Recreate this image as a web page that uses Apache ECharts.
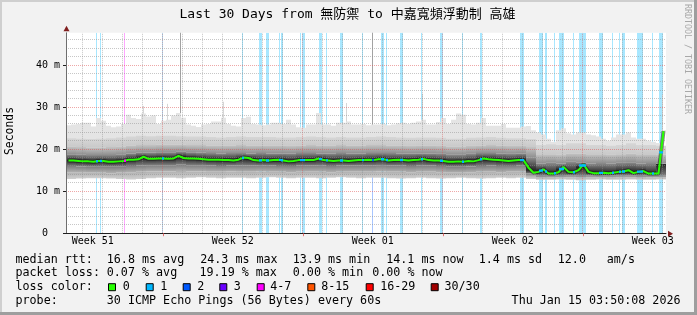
<!DOCTYPE html>
<html><head><meta charset="utf-8">
<script src="https://cdn.jsdelivr.net/npm/echarts@6/dist/echarts.min.js"></script>
<style>html,body{margin:0;padding:0;background:#f2f2f2}#c{width:697px;height:315px}</style>
</head><body><div id="c"></div>
<script>
// ---------- DATA ----------
const titleText = 'Last 30 Days from 無防禦 to 中嘉寬頻浮動制 高雄';
// x axis in days since Sun 14 Dec 2025 00:00 (local)
const startDay = 2.16, endDay = 32.16;
const fineStep = 0.25, coarseStep = 0.5;
const yMax = 47.71;

const median = [
17.3,17.3,17.2,17.1,17.1,17.0,17.2,17.2,17.0,17.0,
17.1,17.2,17.5,17.5,17.6,18.2,17.7,17.7,17.8,17.8,
17.7,17.8,18.4,17.9,17.8,17.8,17.7,17.6,17.5,17.5,
17.5,17.4,17.4,17.3,17.5,18.0,17.9,17.4,17.3,17.4,
17.3,17.4,17.5,17.3,17.1,17.2,17.4,17.4,17.4,17.4,
17.8,17.4,17.3,17.2,17.3,17.3,17.2,17.3,17.4,17.4,
17.5,17.4,17.6,17.6,17.3,17.4,17.5,17.4,17.3,17.4,
17.5,17.7,17.4,17.3,17.3,17.2,17.0,17.0,17.1,17.0,
17.2,17.1,17.4,17.8,17.6,17.5,17.4,17.3,17.2,17.3,
17.4,17.4,15.6,14.4,14.6,15.2,14.2,14.2,14.5,15.8,
14.6,14.5,15.0,16.4,14.6,14.3,14.3,14.4,14.3,14.4,
14.6,14.7,15.0,14.3,14.6,14.8,14.2,14.2,14.2,24.3];
const maxRtt = [
25.7,25.9,26.0,26.3,26.3,25.4,27.4,26.8,25.6,25.2,
25.4,26.0,28.2,27.4,27.2,28.5,27.8,28.0,26.0,26.8,
27.0,28.0,28.6,27.5,25.9,25.6,25.3,25.9,26.0,26.6,
26.6,27.5,26.0,25.6,25.4,27.4,27.7,26.0,25.9,25.7,
25.9,26.3,26.3,26.0,27.0,25.9,25.2,25.1,25.9,25.9,
28.6,25.9,25.9,25.6,26.3,26.3,26.6,25.9,25.9,26.0,
25.7,25.9,25.9,26.0,25.7,25.9,26.2,26.3,26.0,26.3,
26.6,27.0,25.9,25.9,26.5,27.4,26.0,27.0,28.5,28.2,
26.0,25.9,26.3,27.4,25.6,25.6,25.6,26.0,25.1,25.1,
25.1,25.4,25.5,24.5,24.0,23.5,22.5,21.8,24.5,25.0,
23.8,23.5,24.0,24.0,23.5,23.3,23.0,22.5,22.0,22.8,
23.5,23.5,24.0,22.8,22.5,22.5,22.0,21.8,21.5,24.5];
// half-day smoke percentiles
const minRtt = [
12.9,13.0,13.1,13.1,13.0,12.9,12.8,12.9,13.1,13.2,
13.2,13.1,13.2,13.3,13.2,13.1,13.2,13.2,13.1,13.2,
13.3,13.2,13.1,13.2,13.2,13.1,13.2,13.3,13.2,13.1,
13.2,13.2,13.1,13.0,13.1,13.2,13.1,13.0,13.1,13.2,
13.1,13.0,13.1,13.2,13.1,13.2,
12.9,12.7,12.7,12.8,12.7,12.6,12.7,12.8,12.7,12.7,12.8,12.7,12.7,12.8];
const p10 = [
14.5,14.5,14.4,14.4,14.3,14.4,14.5,14.6,14.7,14.7,
14.7,14.8,14.7,14.7,14.6,14.6,14.7,14.6,14.6,14.7,
14.6,14.6,14.5,14.6,14.6,14.6,14.5,14.6,14.6,14.6,
14.6,14.7,14.6,14.6,14.5,14.6,14.6,14.5,14.4,14.4,
14.5,14.6,14.6,14.5,14.6,14.6,
13.6,13.2,13.2,13.3,13.3,13.2,13.3,13.3,13.2,13.3,13.3,13.2,13.3,13.3];
const p25 = [
16.0,15.9,15.8,15.8,15.8,15.8,16.0,16.1,16.2,16.2,
16.2,16.3,16.2,16.2,16.1,16.0,16.1,16.1,16.1,16.1,
16.1,16.0,16.0,16.1,16.1,16.1,16.0,16.1,16.1,16.1,
16.1,16.2,16.1,16.1,16.0,16.1,16.1,16.0,15.8,15.8,
15.9,16.0,16.1,16.0,16.0,16.1,
14.2,13.7,13.8,13.7,13.8,13.7,13.8,13.7,13.8,13.8,13.8,13.7,13.7,13.7];
const p75 = [
18.8,18.7,18.6,18.6,18.6,18.7,19.0,19.2,19.2,19.3,
19.3,19.4,19.3,19.2,19.1,19.0,19.1,19.1,19.0,19.1,
19.0,19.0,19.0,19.1,19.1,19.0,19.0,19.1,19.0,19.0,
19.1,19.1,19.1,19.0,19.0,19.0,19.0,18.9,18.7,18.7,
18.9,19.1,19.1,19.0,18.9,19.0,
18.0,16.6,16.8,16.6,17.0,16.8,16.6,16.7,16.6,16.8,16.9,16.6,16.7,16.6];
const p85 = [
20.6,20.5,20.4,20.4,20.5,20.6,20.9,21.0,21.0,21.1,
21.1,21.1,21.0,21.0,20.9,20.9,20.9,21.0,20.9,20.9,
20.9,20.9,20.8,20.9,21.0,20.9,20.9,21.0,20.9,20.9,
21.0,21.0,20.9,20.9,20.8,20.9,20.9,20.8,20.6,20.6,
20.8,20.9,21.0,20.9,20.8,20.8,
20.5,18.8,18.8,18.7,19.0,19.0,18.8,18.8,18.7,18.8,19.0,18.8,18.8,18.7];
const p90 = [
22.6,22.5,22.4,22.5,22.6,22.8,23.0,23.2,23.1,23.2,
23.2,23.1,23.0,23.0,22.9,22.8,22.9,23.0,22.9,22.9,
22.9,22.8,22.8,22.9,23.0,22.9,22.8,22.9,22.8,22.8,
22.9,23.0,22.9,22.8,22.7,22.8,22.8,22.7,22.5,22.5,
22.7,22.8,22.9,22.7,22.6,22.6,
22.4,21.0,21.2,21.0,21.4,21.4,21.0,21.0,20.8,21.0,21.4,21.0,21.0,20.8];
// single slow pings [day, rtt]
const spikes = [[6.01,30.3],[7.21,30.8],[7.86,48],[10.01,31.3],[16.16,31.0],[17.46,48],[19.96,33.2],[27.86,30.0],[31.96,33.0]];
// loss periods [startDay, endDay, lossLevel]
const lossBars = [
[3.66,3.71,1],[3.86,3.91,1],[5.06,5.11,4],[6.96,7.01,1],[10.96,11.01,1],[11.81,11.96,1],
[12.16,12.31,1],[12.81,12.86,1],[12.91,13.01,1],[13.86,13.91,1],[13.96,14.11,1],[14.81,14.96,1],
[15.16,15.21,1],[15.86,16.01,1],[16.96,17.01,1],[17.46,17.51,2],[17.91,18.06,1],[18.16,18.21,1],
[18.86,19.01,1],[19.91,19.96,1],[20.86,21.01,1],[21.96,22.01,1],[22.86,22.96,1],[24.86,25.06,1],
[25.81,26.01,1],[26.11,26.21,1],[26.56,26.61,1],[26.81,27.06,1],[27.51,27.56,1],[27.81,28.16,1],
[28.81,29.01,1],[29.46,29.51,1],[29.81,29.86,1],[29.96,30.11,1],[30.71,31.01,1],[31.46,31.51,1],
[31.81,32.01,1]];
const lossColors = ['#26ff00','#00b8ff','#0059ff','#6a00ff','#ff00ff','#ff5500','#ff0000','#a00000'];
const lossLabels = ['0','1','2','3','4-7','8-15','16-29','30/30'];
const minorDays = [3,4,5,6,8,9,10,11,12,13,15,16,17,18,19,20,22,23,24,25,26,27,29,30,31,32];
const majorDays = [7,14,21,28];
const weekLabelDays = [3.5,10.5,17.5,24.5,31.5];
const weekLabels = ['Week 51','Week 52','Week 01','Week 02','Week 03'];
const yTickValues = [0,10,20,30,40];
const yTickLabels = ['0  ','10 m','20 m','30 m','40 m'];
const yMinor = [2,4,6,8,12,14,16,18,22,24,26,28,32,34,36,38,42,44,46];
const yMajor = [10,20,30,40];
const rttLegend = ['median rtt:','16.8 ms avg','24.3 ms max','13.9 ms min','14.1 ms now','1.4 ms sd','12.0','am/s'];
const lossLegend = ['packet loss:','0.07 % avg','19.19 % max','0.00 % min','0.00 % now'];
const probeLegend = ['probe:','30 ICMP Echo Pings (56 Bytes) every 60s'];
const dateText = 'Thu Jan 15 03:50:08 2026';
const watermark = 'RRDTOOL / TOBI OETIKER';

// ---------- LAYOUT / STYLE ----------
const FONT = '"DejaVu Sans Mono", "Noto Sans CJK TC", monospace';
const rttX = [15.5,106.8,200.2,292.8,386.2,478.8,557.8,606.8];
const lossX = [15.5,106.8,199.5,292.8,372.2];
const probeX = [15.5,106.8];
const boxX = [108,145.7,182.7,219.3,256.7,307.3,365.7,430.7];
const boxLabelX = [122.8,160.2,197.2,233.8,270.2,321.2,380.2,444.5];
const legendY = [259.5,273.4,287.2,301];
const LEG = 11.7;

function medianAt(d){
  const pos=(d-startDay)/fineStep-0.5; const i=Math.floor(pos);
  if(i<0) return median[0]; if(i>=median.length-1) return median[median.length-1];
  const f=pos-i; return median[i]*(1-f)+median[i+1]*f;
}
function bandData(lo, hi, step){ return lo.map((v,i)=>[startDay+i*step, startDay+(i+1)*step, v, hi[i]]); }
// colors: [top, bottom]  or  [top, atMedian, bottom]
function bandSeries(data, colors, z){
  return {type:'custom', z:z, clip:true, silent:true, data:data,
    renderItem:function(p,api){
      const x0=api.value(0), x1=api.value(1), lo=api.value(2), hi=api.value(3);
      const a=api.coord([x0,hi]), b=api.coord([x1,lo]);
      let fill;
      if(colors.length===1) fill=colors[0];
      else if(colors.length===2) fill=new echarts.graphic.LinearGradient(0,0,0,1,[{offset:0,color:colors[0]},{offset:1,color:colors[1]}]);
      else {
        const m=medianAt((x0+x1)/2); let f=(hi-m)/(hi-lo); f=Math.min(0.95,Math.max(0.05,f));
        fill=new echarts.graphic.LinearGradient(0,0,0,1,[{offset:0,color:colors[0]},{offset:f,color:colors[1]},{offset:1,color:colors[2]}]);
      }
      return {type:'rect', shape:{x:a[0],y:a[1],width:b[0]-a[0],height:b[1]-a[1]}, style:{fill:fill}};
    }};
}
function gridSeries(values, vertical, color){
  return {type:'custom', z:6, clip:true, silent:true, data:values.map(v=>[v]),
    renderItem:function(p,api){
      const v=api.value(0);
      if(vertical){
        const a=api.coord([v,0]), b=api.coord([v,yMax]); const x=Math.floor(a[0])+0.5;
        return {type:'line', shape:{x1:x,y1:a[1],x2:x,y2:b[1]}, style:{stroke:color,lineWidth:1,lineDash:[1,1]}};
      }
      const a=api.coord([startDay,v]), b=api.coord([endDay,v]); const y=Math.floor(a[1])+0.5;
      return {type:'line', shape:{x1:a[0],y1:y,x2:b[0],y2:y}, style:{stroke:color,lineWidth:1,lineDash:[1,1]}};
    }};
}
function txt(text,x,y,size,o){
  o=o||{};
  return {type:'text', x:x, y:y, rotation:o.rot||0, silent:true, z:100,
    style:{text:text, font:size+'px '+FONT, fill:o.color||'#000',
      align:o.align||'left', verticalAlign:'middle', textAlign:o.align||'left', textVerticalAlign:'middle'}};
}

const medLine = median.map((m,i)=>[startDay+(i+0.5)*fineStep, m]);

const graphic = [
  {type:'rect', shape:{x:0,y:0,width:697,height:2}, style:{fill:'#cfcfcf'}, silent:true},
  {type:'rect', shape:{x:0,y:0,width:2,height:315}, style:{fill:'#cfcfcf'}, silent:true},
  {type:'rect', shape:{x:0,y:312,width:697,height:3}, style:{fill:'#9e9e9e'}, silent:true},
  {type:'rect', shape:{x:694,y:0,width:3,height:315}, style:{fill:'#9e9e9e'}, silent:true},
  txt(titleText,347.5,14.8,13,{align:'center'}),
  txt('Seconds',10.5,131,11.4,{align:'center',rot:Math.PI/2}),
  txt(watermark,687.5,4,8.3,{rot:-Math.PI/2,color:'#a8a8a8'})
];
rttLegend.forEach((t,k)=>graphic.push(txt(t,rttX[k],legendY[0],LEG)));
lossLegend.forEach((t,k)=>graphic.push(txt(t,lossX[k],legendY[1],LEG)));
graphic.push(txt('loss color:',15.5,legendY[2],LEG));
lossLabels.forEach((t,k)=>{
  graphic.push({type:'rect', silent:true, z:100, shape:{x:boxX[k]+0.5,y:legendY[2]-3.5,width:7,height:7}, style:{fill:lossColors[k],stroke:'#000',lineWidth:1}});
  graphic.push(txt(t,boxLabelX[k],legendY[2],LEG));
});
probeLegend.forEach((t,k)=>graphic.push(txt(t,probeX[k],legendY[3],LEG)));
graphic.push(txt(dateText,680.5,legendY[3],LEG,{align:'right'}));

const option = {
  animation:false,
  backgroundColor:'#f2f2f2',
  grid:{left:66,right:31,top:32.8,bottom:81.8,show:true,backgroundColor:'#ffffff',borderWidth:0},
  xAxis:{type:'value',min:startDay,max:endDay,z:8,
    axisLine:{show:true,lineStyle:{color:'#1f1f1f',width:1}},
    axisTick:{show:true,customValues:majorDays,length:3,lineStyle:{color:'rgba(222,79,79,0.8)'}},
    axisLabel:{customValues:weekLabelDays,margin:3,fontFamily:FONT,fontSize:10,color:'#000',
      formatter:function(v){const k=weekLabelDays.indexOf(v);return k>=0?weekLabels[k]:'';}},
    splitLine:{show:false}},
  yAxis:{type:'value',min:0,max:yMax,z:8,
    axisLine:{show:true,lineStyle:{color:'#6e6e6e',width:1}},
    axisTick:{show:true,customValues:yTickValues,length:3,lineStyle:{color:'#1f1f1f'}},
    axisLabel:{customValues:yTickValues,margin:6,fontFamily:FONT,fontSize:10,color:'#000',
      formatter:function(v){const k=yTickValues.indexOf(v);return k>=0?yTickLabels[k]:'';}},
    splitLine:{show:false}},
  graphic:graphic,
  series:[
    {type:'custom', z:1, clip:true, silent:true, data:lossBars,
      renderItem:function(p,api){
        const a=api.coord([api.value(0),yMax]), b=api.coord([api.value(1),0]);
        return {type:'rect', shape:{x:a[0],y:a[1],width:Math.max(1,b[0]-a[0]),height:b[1]-a[1]},
          style:{fill:lossColors[api.value(2)],opacity:0.34}};
      }},
    {type:'custom', z:2, clip:true, silent:true, data:spikes,
      renderItem:function(p,api){
        const d=api.value(0), v=api.value(1);
        const a=api.coord([d,v]), b=api.coord([d,medianAt(d)]); const x=Math.floor(a[0])+0.5;
        return {type:'line', shape:{x1:x,y1:a[1],x2:x,y2:b[1]}, style:{stroke:v>=yMax?'#a3a3a3':'#d6d6d6',lineWidth:1}};
      }},
    bandSeries(bandData(median,maxRtt,fineStep),['#e4e4e4'],3),
    bandSeries(bandData(p85,p90,coarseStep),['#d6d6d6','#c9c9c9'],3),
    bandSeries(bandData(p75,p85,coarseStep),['#c4c4c4','#8e8e8e'],3),
    bandSeries(bandData(minRtt,p10,coarseStep),['#b0b0b0','#d0d0d0'],3),
    bandSeries(bandData(p10,p25,coarseStep),['#7e7e7e','#b0b0b0'],3),
    bandSeries(bandData(p25,p75,coarseStep),['#8e8e8e','#262626','#7e7e7e'],3),
    {type:'line', z:4, silent:true, data:medLine, showSymbol:false, lineStyle:{color:'#1e1e1e',width:4,opacity:0.55}},
    gridSeries(minorDays,true,'rgba(143,143,143,0.5)'),
    gridSeries(majorDays,true,'rgba(222,79,79,0.5)'),
    gridSeries(yMinor,false,'rgba(143,143,143,0.5)'),
    gridSeries(yMajor,false,'rgba(222,79,79,0.5)'),
    {type:'line', z:7, silent:true, data:medLine, showSymbol:false, lineStyle:{color:lossColors[0],width:2}},
    {type:'custom', z:8, clip:true, silent:true, data:lossBars,
      renderItem:function(p,api){
        const x0=api.value(0), x1=api.value(1), m=medianAt((x0+x1)/2);
        const a=api.coord([x0,m]), b=api.coord([x1,m]);
        return {type:'rect', shape:{x:a[0],y:a[1]-1.2,width:Math.max(2,b[0]-a[0]),height:2.4}, style:{fill:lossColors[api.value(2)]}};
      }},
    {type:'custom', z:9, clip:false, silent:true, data:[[startDay,yMax,0],[endDay,0,1]],
      renderItem:function(p,api){
        const c=api.coord([api.value(0),api.value(1)]);
        const pts = api.value(2)===0
          ? [[c[0]-2.5,c[1]-1.5],[c[0]+3.5,c[1]-1.5],[c[0]+0.5,c[1]-7]]
          : [[c[0]+2,c[1]-2.5],[c[0]+2,c[1]+3.5],[c[0]+7,c[1]+0.5]];
        return {type:'polygon', shape:{points:pts}, style:{fill:'#801f1f'}};
      }}
  ]
};
const chart = echarts.init(document.getElementById('c'), null, {renderer:'canvas', width:697, height:315});
chart.setOption(option);
</script></body></html>
